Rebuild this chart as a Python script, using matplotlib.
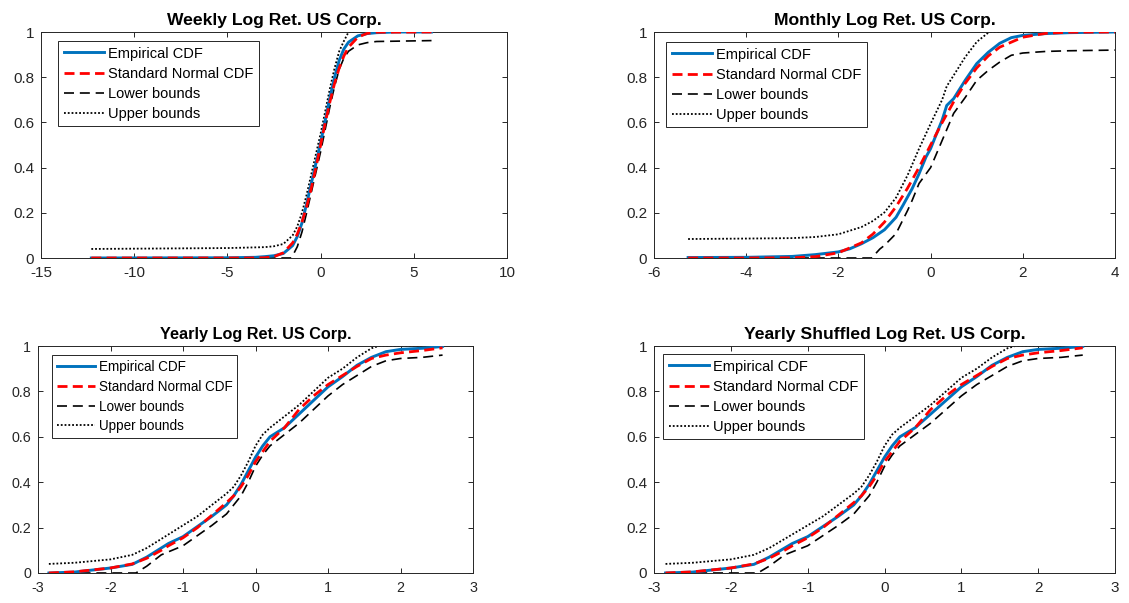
import matplotlib
matplotlib.use("Agg")
import matplotlib.pyplot as plt
from matplotlib.ticker import FuncFormatter

plt.rcParams['font.family'] = ['Liberation Sans', 'DejaVu Sans']

# ---------------- Weekly log returns ----------------
weekly_emp_x = [-12.3, -5, -3.5, -3, -2.5, -2, -1.5, -1.25, -1, -0.75, -0.5, -0.25,
                0, 0.25, 0.5, 0.75, 1, 1.25, 1.5, 2, 2.5, 3, 4, 5.95]
weekly_emp_y = [0, 0.001, 0.003, 0.006, 0.010, 0.020, 0.055, 0.095, 0.155, 0.24, 0.33, 0.42,
                0.51, 0.61, 0.71, 0.80, 0.875, 0.925, 0.955, 0.983, 0.993, 0.997, 1.0, 1.0]
weekly_norm_x = [-12.3, -4, -3, -2.5, -2, -1.5, -1.25, -1, -0.75, -0.5, -0.25, 0,
                 0.25, 0.5, 0.75, 1, 1.25, 1.5, 2, 2.5, 3, 5.95]
weekly_norm_y = [0, 0.0, 0.001, 0.006, 0.023, 0.067, 0.106, 0.159, 0.227, 0.309, 0.401, 0.5,
                 0.599, 0.691, 0.773, 0.841, 0.894, 0.933, 0.977, 0.994, 0.999, 1.0]
weekly_low_x = [-12.3, -1.6, -1.5, -1.25, -1, -0.75, -0.5, -0.25, 0, 0.25, 0.5, 0.75,
                1, 1.25, 1.5, 2, 2.5, 3, 5.95]
weekly_low_y = [0, 0, 0.01, 0.05, 0.115, 0.20, 0.29, 0.38, 0.47, 0.57, 0.67, 0.76,
                0.835, 0.885, 0.915, 0.943, 0.953, 0.958, 0.962]
weekly_up_x = [-12.3, -5, -4, -3, -2.5, -2, -1.5, -1.25, -1, -0.75, -0.5, -0.25,
               0, 0.25, 0.5, 0.75, 1, 1.25, 1.5, 5.95]
weekly_up_y = [0.04, 0.044, 0.046, 0.048, 0.052, 0.062, 0.10, 0.14, 0.20, 0.28, 0.37, 0.46,
               0.55, 0.65, 0.75, 0.84, 0.915, 0.96, 1.0, 1.0]

# ---------------- Monthly log returns ----------------
monthly_emp_x = [-5.26, -4, -3, -2.5, -2, -1.75, -1.5, -1.25, -1, -0.75, -0.6, -0.5, -0.4,
                 -0.25, -0.1, 0, 0.1, 0.25, 0.35, 0.5, 0.75, 1, 1.25, 1.5, 1.75, 2, 2.5, 3, 4]
monthly_emp_y = [0.002, 0.003, 0.007, 0.015, 0.027, 0.041, 0.063, 0.09, 0.125, 0.18, 0.233, 0.27, 0.307,
                 0.373, 0.447, 0.484, 0.535, 0.61, 0.675, 0.705, 0.786, 0.86, 0.91, 0.95, 0.975, 0.985, 0.993, 0.997, 1.0]
monthly_norm_x = [-5.26, -4, -3, -2.5, -2, -1.5, -1.25, -1, -0.75, -0.5, -0.25, 0,
                  0.25, 0.5, 0.75, 1, 1.25, 1.5, 2, 2.5, 3, 4]
monthly_norm_y = [0, 0.0, 0.001, 0.006, 0.023, 0.067, 0.106, 0.159, 0.227, 0.309, 0.401, 0.5,
                  0.599, 0.691, 0.773, 0.841, 0.894, 0.933, 0.977, 0.994, 0.999, 1.0]
monthly_low_x = [-5.26, -1.28, -1.1, -1, -0.75, -0.5, -0.4, -0.25, 0, 0.25, 0.5, 0.75,
                 1, 1.25, 1.5, 1.75, 2, 2.5, 3, 4]
monthly_low_y = [0, 0, 0.04, 0.056, 0.108, 0.21, 0.255, 0.33, 0.40, 0.52, 0.64, 0.71,
                 0.786, 0.83, 0.867, 0.897, 0.907, 0.914, 0.917, 0.92]
monthly_up_x = [-5.26, -4, -3, -2.5, -2, -1.5, -1.25, -1, -0.75, -0.5, -0.25, 0,
                0.25, 0.35, 0.5, 0.75, 1, 1.25, 1.3, 4]
monthly_up_y = [0.084, 0.086, 0.088, 0.093, 0.105, 0.137, 0.164, 0.202, 0.267, 0.366, 0.484, 0.594,
                0.70, 0.76, 0.808, 0.889, 0.956, 0.997, 1.0, 1.0]

# ---------------- Yearly log returns (original and shuffled) ----------------
yearly_x = [-2.85, -2.5, -2, -1.7, -1.5, -1.3, -1.2, -1, -0.8, -0.6, -0.4, -0.3, -0.2, -0.1,
            0, 0.1, 0.2, 0.4, 0.6, 0.8, 1.0, 1.2, 1.4, 1.6, 1.8, 2.0, 2.3, 2.58]
yearly_emp_y = [0, 0.004, 0.022, 0.038, 0.07, 0.11, 0.13, 0.16, 0.205, 0.25, 0.30, 0.34, 0.39, 0.45,
                0.51, 0.56, 0.60, 0.64, 0.70, 0.76, 0.82, 0.865, 0.915, 0.95, 0.975, 0.985, 0.99, 0.998]
yearly_norm_y = [0, 0.005, 0.022, 0.04, 0.065, 0.10, 0.12, 0.155, 0.20, 0.255, 0.31, 0.34, 0.38, 0.43,
                 0.49, 0.535, 0.58, 0.64, 0.72, 0.78, 0.83, 0.87, 0.91, 0.945, 0.96, 0.97, 0.98, 0.992]
yearly_low_x = [-2.85, -1.65, -1.5, -1.3, -1, -0.8, -0.6, -0.4, -0.2, -0.1, 0, 0.1, 0.2,
                0.4, 0.6, 0.8, 1.0, 1.2, 1.4, 1.6, 1.8, 2.0, 2.3, 2.58]
yearly_low_y = [0, 0, 0.03, 0.08, 0.12, 0.165, 0.21, 0.26, 0.34, 0.40, 0.47, 0.52, 0.56,
                0.61, 0.66, 0.72, 0.78, 0.83, 0.87, 0.91, 0.935, 0.945, 0.95, 0.96]
yearly_up_x = [-2.85, -2.5, -2, -1.7, -1.5, -1.3, -1.2, -1, -0.8, -0.6, -0.4, -0.3, -0.2, -0.1,
               0, 0.1, 0.2, 0.4, 0.6, 0.8, 1.0, 1.2, 1.4, 1.6, 1.7, 2.58]
yearly_up_y = [0.04, 0.045, 0.06, 0.08, 0.11, 0.15, 0.17, 0.21, 0.25, 0.30, 0.35, 0.38, 0.43, 0.49,
               0.56, 0.61, 0.64, 0.69, 0.74, 0.80, 0.86, 0.90, 0.95, 0.99, 1.0, 1.0]

titles = ["Weekly Log Ret. US Corp.", "Monthly Log Ret. US Corp.",
          "Yearly Log Ret. US Corp.", "Yearly Shuffled Log Ret. US Corp."]
legend_labels = ["Empirical CDF", "Standard Normal CDF", "Lower bounds", "Upper bounds"]

W, H = 1129, 603
fig = plt.figure(figsize=(W / 100, H / 100), dpi=100)


def px_rect(left, top, right, bottom):
    return [left / W, 1 - bottom / H, (right - left) / W, (bottom - top) / H]


panels = [
    dict(rect=px_rect(41, 32, 507, 258), xlim=(-15, 10), xticks=[-15, -10, -5, 0, 5, 10],
         emp=(weekly_emp_x, weekly_emp_y), norm=(weekly_norm_x, weekly_norm_y),
         low=(weekly_low_x, weekly_low_y), up=(weekly_up_x, weekly_up_y),
         leg=(17, 9, 2.8), scale=1.0),
    dict(rect=px_rect(654, 32, 1115, 258), xlim=(-6, 4), xticks=[-6, -4, -2, 0, 2, 4],
         emp=(monthly_emp_x, monthly_emp_y), norm=(monthly_norm_x, monthly_norm_y),
         low=(monthly_low_x, monthly_low_y), up=(monthly_up_x, monthly_up_y),
         leg=(12, 10, 2.8), scale=1.0),
    dict(rect=px_rect(38, 346, 473, 573), xlim=(-3, 3), xticks=[-3, -2, -1, 0, 1, 2, 3],
         emp=(yearly_x, yearly_emp_y), norm=(yearly_x, yearly_norm_y),
         low=(yearly_low_x, yearly_low_y), up=(yearly_up_x, yearly_up_y),
         leg=(14, 9, 2.8), scale=0.93),
    dict(rect=px_rect(654, 346, 1115, 573), xlim=(-3, 3), xticks=[-3, -2, -1, 0, 1, 2, 3],
         emp=(yearly_x, yearly_emp_y), norm=(yearly_x, yearly_norm_y),
         low=(yearly_low_x, yearly_low_y), up=(yearly_up_x, yearly_up_y),
         leg=(9, 8, 2.8), scale=1.0),
]

axis_color = '#262626'
fmt = FuncFormatter(lambda v, p: '%g' % round(v, 6))

for title, p in zip(titles, panels):
    k = p['scale']
    ax = fig.add_axes(p['rect'])
    ax.plot(*p['emp'], color='#0072BD', lw=2.1, label=legend_labels[0], zorder=3)
    ax.plot(*p['norm'], color='red', lw=2.0, linestyle=(0, (3.6, 1.9)), label=legend_labels[1], zorder=4)
    ax.plot(*p['low'], color='black', lw=1.2, linestyle=(0, (6, 3.5)), label=legend_labels[2], zorder=2)
    ax.plot(*p['up'], color='black', lw=1.3, linestyle=(0, (1, 1.1)), label=legend_labels[3], zorder=2)

    ax.set_xlim(*p['xlim'])
    ax.set_ylim(0, 1)
    ax.set_xticks(p['xticks'])
    ax.set_yticks([0, 0.2, 0.4, 0.6, 0.8, 1])
    ax.xaxis.set_major_formatter(fmt)
    ax.yaxis.set_major_formatter(fmt)
    for s in ax.spines.values():
        s.set_color(axis_color)
        s.set_linewidth(0.7)
    ax.tick_params(direction='in', top=True, right=True, length=3.8, width=0.7,
                   colors=axis_color, labelsize=11 * k)
    ax.tick_params(axis='x', pad=6)
    ax.tick_params(axis='y', pad=5)
    ax.set_title(title, fontsize=12.6 * k, fontweight='bold', pad=5.3, color='black')

    dx, dy, hl = p['leg']
    axw = p['rect'][2] * W
    axh = p['rect'][3] * H
    leg = ax.legend(loc='upper left', bbox_to_anchor=(dx / axw, 1 - dy / axh),
                    borderaxespad=0, fontsize=10.5 * k, handlelength=hl, handletextpad=0.25,
                    labelspacing=0.42, borderpad=0.38, fancybox=False, framealpha=1,
                    edgecolor=axis_color)
    leg.get_frame().set_linewidth(0.7)

fig.savefig('out.png', dpi=100)
